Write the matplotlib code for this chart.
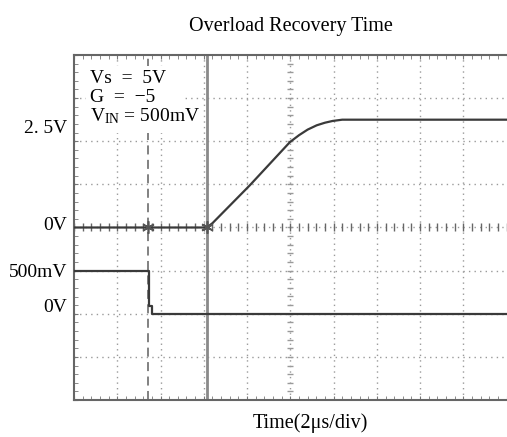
import matplotlib
matplotlib.use("Agg")
import matplotlib.pyplot as plt
from matplotlib.patches import Rectangle
from matplotlib.ticker import MultipleLocator
import numpy as np

plt.rcParams['font.family'] = ['Liberation Serif', 'DejaVu Serif']
plt.rcParams['mathtext.fontset'] = 'custom'
plt.rcParams['mathtext.rm'] = 'Liberation Serif'

# time base 2us/div, 10 divisions; 8 vertical divisions
out_t = [0.0, 6.14, 6.4, 8.13, 9.98, 10.4, 10.8, 11.22, 11.6, 11.95, 12.4, 20.0]
out_v = [0.0, 0.0, 0.1, 0.98, 1.98, 2.14, 2.27, 2.37, 2.43, 2.47, 2.5, 2.5]   # V, 1V/div
in_t = [0.0, 3.45, 3.45, 3.62, 3.62, 20.0]
in_mv = [500, 500, 85, 85, 0, 0]                                             # mV, 500mV/div
in_offset = -2.0

trig_t = 6.14
cursor_t = 3.42
marks_t = [3.42, 6.14]

level_labels = ['2. 5V', '0V', '500mV', '0V']
level_pos = [2.3, 0.05, -1.04, -1.86]

trace = '#3a3a3a'
gridc = '#9a9a9a'

fig = plt.figure(figsize=(5.07, 4.37), dpi=100)
ax = fig.add_axes([74 / 507, 37 / 437, 437 / 507, 345 / 437])
ax.set_xlim(0, 20.2)
ax.set_ylim(-4, 4)

# scope graticule
for x in np.arange(2, 20, 2):
    ax.axvline(x, color=gridc, lw=1.0, ls=(0, (1, 3)), zorder=1)
for y in np.arange(-3, 4, 1):
    ax.axhline(y, color=gridc, lw=1.0, ls=(0, (1, 3)), zorder=1)
yt = np.arange(-4, 4.01, 0.2)
ax.plot([10] * len(yt), yt, ls='none', marker='_', ms=5, mew=1, color=gridc, zorder=1)
xt = np.arange(0, 20.01, 0.4)
ax.plot(xt, [0] * len(xt), ls='none', marker='|', ms=6, mew=1, color='#666666', zorder=2)

ax.xaxis.set_major_locator(MultipleLocator(2))
ax.xaxis.set_minor_locator(MultipleLocator(0.4))
ax.yaxis.set_major_locator(MultipleLocator(1))
ax.yaxis.set_minor_locator(MultipleLocator(0.2))
ax.tick_params(which='both', direction='in', top=True, right=False, length=3,
               color='#777777', labelbottom=False, labelleft=False)
for s in ax.spines.values():
    s.set_color('#666666')
    s.set_linewidth(1.5)
ax.spines['right'].set_visible(False)

# cursors
ax.axvline(trig_t, color='#8a8a8a', lw=2, zorder=2)
ax.axvline(cursor_t, color='#777777', lw=1.3, ls=(0, (5, 3)), zorder=2)

# traces
ax.plot(out_t, out_v, color=trace, lw=1.6, zorder=4)
ax.plot(in_t, [v / 500 + in_offset for v in in_mv], color=trace, lw=1.6, zorder=4)
ax.plot(marks_t, [0, 0], ls='none', marker=(6, 2, 0), ms=9, mew=1.2, color='#555555', zorder=5)

# settings box
ax.add_patch(Rectangle((0.55, 2.2), 4.6, 1.55, facecolor='white', edgecolor='none', zorder=3))
ax.text(0.74, 3.46, 'Vs  =  5V', fontsize=14, va='center', zorder=6)
ax.text(0.74, 3.02, 'G  =  \u22125', fontsize=14, va='center', zorder=6)
ax.text(0.74, 2.58, r'$\mathrm{V_{IN}}$ = 500mV', fontsize=14, va='center', zorder=6)

for lab, y in zip(level_labels, level_pos):
    ax.text(-0.016, y, lab, transform=ax.get_yaxis_transform(), ha='right', va='center', fontsize=14)

fig.text(291 / 507, 1 - 26 / 437, 'Overload Recovery Time', ha='center', va='center', fontsize=14.5)
fig.text(310 / 507, 1 - 423 / 437, 'Time(2\u03bcs/div)', ha='center', va='center', fontsize=14.5)

fig.savefig('out.png', dpi=100)
